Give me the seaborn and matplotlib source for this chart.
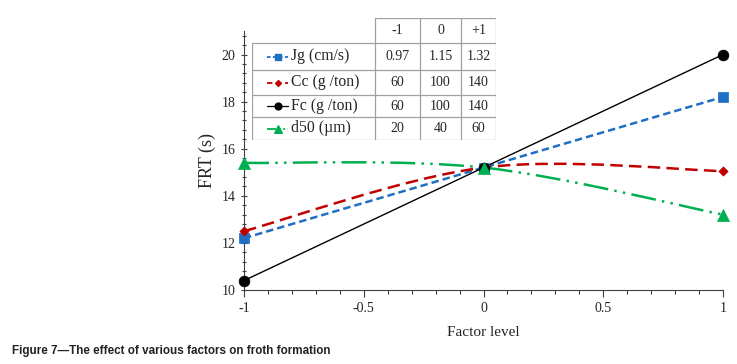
import numpy as np
import pandas as pd
import matplotlib
matplotlib.use('Agg')
import matplotlib.pyplot as plt
from matplotlib.path import Path
from matplotlib.patches import PathPatch
from matplotlib.ticker import MultipleLocator
import seaborn as sns

# data
levels = [-1, 0, 1]
jg = [12.2, 15.2, 18.2]
cc = [12.5, 15.2, 15.05]
fc = [10.4, 15.2, 20.0]
d50 = [15.4, 15.2, 13.2]

names = ['Jg (cm/s)', 'Cc (g /ton)', 'Fc (g /ton)', 'd50 (µm)']
header = ['-1', '0', '+1']
table_vals = [['0.97', '1.15', '1.32'],
              ['60', '100', '140'],
              ['60', '100', '140'],
              ['20', '40', '60']]

colors = ['#1f6fc4', '#c00000', '#000000', '#00b050']
markers = ['s', 'D', 'o', '^']
msizes = [55, 22, 60, 75]
dashes = [(3, 1.6), (5, 2.5), (), (10, 2.5, 1, 2.5, 1, 2.5)]
lws = [1.8, 1.8, 1.0, 1.8]

df = pd.DataFrame({'level': levels * 4,
                   'frt': jg + cc + fc + d50,
                   'factor': np.repeat(names, 3)})

sns.set_style('ticks')
plt.rcParams['font.family'] = ['Liberation Serif', 'DejaVu Serif']

fig = plt.figure(figsize=(7.37, 3.64), dpi=100)
W, H = 737, 364
ax = fig.add_axes([244 / W, 1 - 290 / H, (723 - 244) / W, (290 - 31) / H])


def smooth_path(xs, ys):
    # excel-style smoothed line: cubic bezier through the points
    pts = np.column_stack([xs, ys]).astype(float)
    verts = [pts[0]]
    codes = [Path.MOVETO]
    n = len(pts)
    for i in range(n - 1):
        p0 = pts[max(i - 1, 0)]
        p1 = pts[i]
        p2 = pts[i + 1]
        p3 = pts[min(i + 2, n - 1)]
        verts += [p1 + (p2 - p0) / 6, p2 - (p3 - p1) / 6, p2]
        codes += [Path.CURVE4] * 3
    return Path(verts, codes)


for name, c, m, s, d, lw in zip(names, colors, markers, msizes, dashes, lws):
    sub = df[df['factor'] == name]
    patch = PathPatch(smooth_path(sub['level'], sub['frt']), facecolor='none',
                      edgecolor=c, lw=lw, zorder=2)
    if d:
        patch.set_linestyle((0, d))
    ax.add_patch(patch)
    sns.scatterplot(data=sub, x='level', y='frt', color=c, marker=m, s=s,
                    edgecolor=c, linewidth=0.5, ax=ax, zorder=3, clip_on=False)

ax.set_xlim(-1, 1)
ax.set_ylim(10, 21)
ax.xaxis.set_major_locator(MultipleLocator(0.5))
ax.xaxis.set_minor_locator(MultipleLocator(0.1))
ax.yaxis.set_major_locator(MultipleLocator(2))
ax.yaxis.set_minor_locator(MultipleLocator(0.4))
ax.set_yticks([10, 12, 14, 16, 18, 20])
ax.set_xticks([-1, -0.5, 0, 0.5, 1])
ax.set_xticklabels(['-1', '-0.5', '0', '0.5', '1'])
ax.tick_params(axis='both', which='major', length=5, width=0.8, labelsize=10, color='#404040')
ax.tick_params(axis='both', which='minor', length=3, width=0.8, color='#404040')
ax.tick_params(axis='y', direction='inout')
ax.tick_params(axis='y', which='minor', direction='inout')
for sp in ['top', 'right']:
    ax.spines[sp].set_visible(False)
ax.spines['left'].set_color('#404040')
ax.spines['bottom'].set_color('#404040')
ax.set_xlabel('Factor level', fontsize=11, labelpad=8)
ax.set_ylabel('FRT (s)', fontsize=13, labelpad=4)

# legend table drawn as its own little axes
tx0, tx1, ty0, ty1 = 252, 496, 18, 140
tab = fig.add_axes([tx0 / W, 1 - ty1 / H, (tx1 - tx0) / W, (ty1 - ty0) / H])
tab.set_xlim(tx0, tx1)
tab.set_ylim(ty1, ty0)
tab.axis('off')
tab.add_patch(plt.Rectangle((tx0, 43), tx1 - tx0, ty1 - 43, facecolor='white',
                            edgecolor='none', zorder=0))
tab.add_patch(plt.Rectangle((375, ty0), tx1 - 375, 43 - ty0, facecolor='white',
                            edgecolor='none', zorder=0))
col_x = [375, 420, 461, 496]
row_y = [43, 70, 95, 117, 140]
gc = '#a0a0a0'
for y in row_y:
    tab.plot([tx0, tx1], [y, y], color=gc, lw=0.9)
tab.plot([375, tx1], [ty0, ty0], color=gc, lw=0.9)
tab.plot([tx0, tx0], [43, 140], color=gc, lw=0.9)
for x in col_x:
    tab.plot([x, x], [ty0, 140], color=gc, lw=0.9)

leg_dashes = [(2, 1.3), (3, 2), (), (5, 1.5, 1, 1.5, 1, 1.5)]
for j, h in enumerate(header):
    tab.text((col_x[j] + col_x[j + 1]) / 2, (ty0 + 43) / 2, h, ha='center',
             va='center', fontsize=10)
for i in range(4):
    yc = (row_y[i] + row_y[i + 1]) / 2
    kw = dict(color=colors[i], lw=1.3 if i != 2 else 0.9)
    if leg_dashes[i]:
        kw['dashes'] = leg_dashes[i]
    tab.plot([267, 288], [yc, yc], **kw)
    tab.scatter([278], [yc], marker=markers[i], s=msizes[i] * 0.4, color=colors[i],
                zorder=3)
    tab.text(291, yc, names[i], ha='left', va='center', fontsize=11.3)
    for j in range(3):
        tab.text((col_x[j] + col_x[j + 1]) / 2, yc, table_vals[i][j], ha='center',
                 va='center', fontsize=10)

fig.text(12 / W, 1 - 351 / H, 'Figure 7\u2014The effect of various factors on froth formation',
         family=['Liberation Sans', 'DejaVu Sans'], fontweight='bold', fontsize=8.4,
         color='#222222', va='center', ha='left')

fig.savefig('out.png', dpi=100)
